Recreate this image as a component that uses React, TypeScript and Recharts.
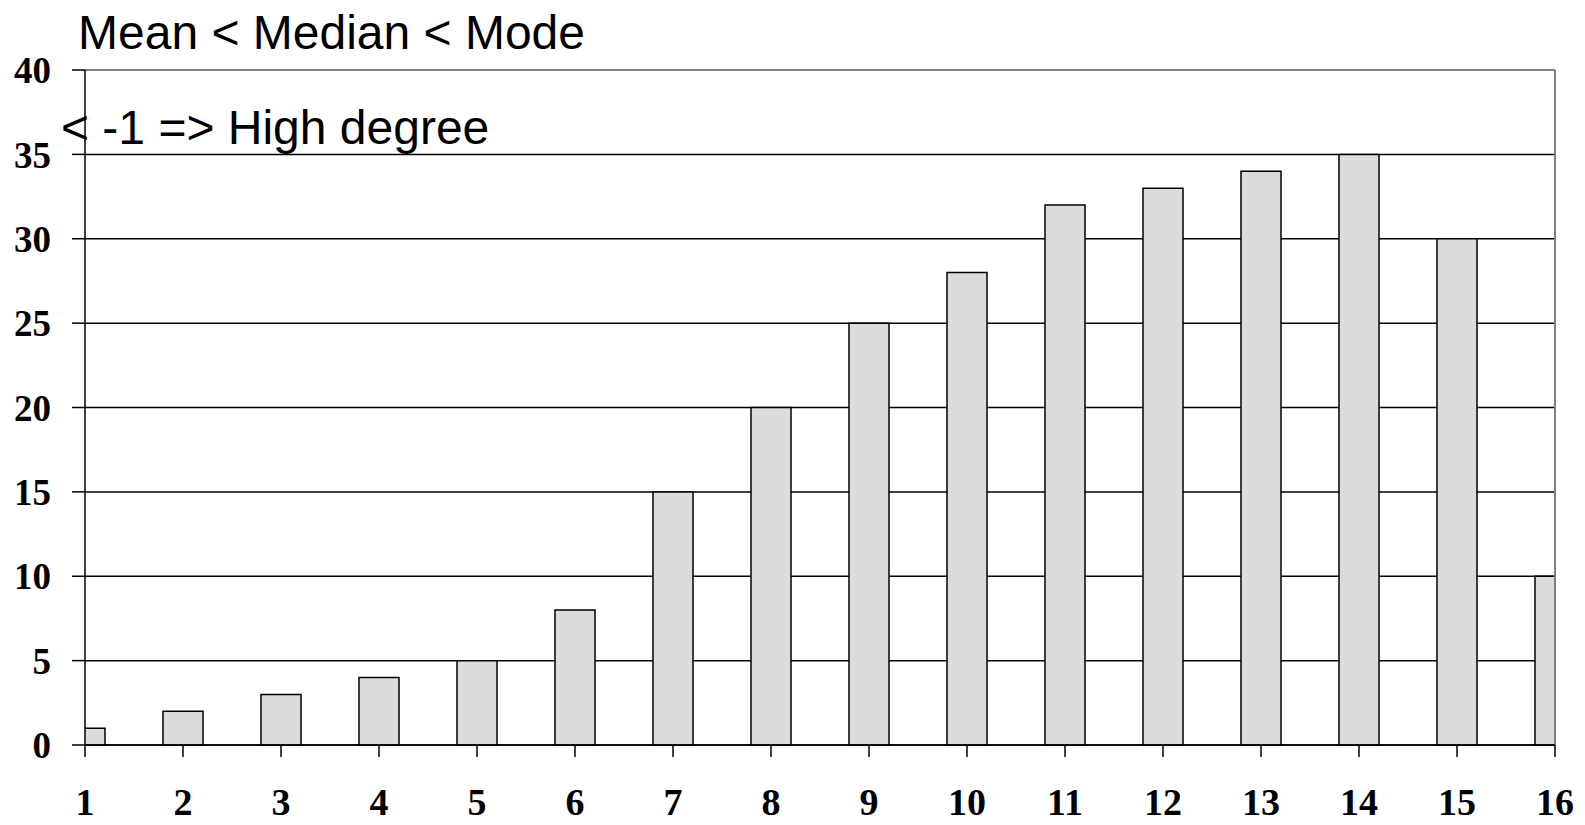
import { Bar, BarChart, CartesianGrid, ReferenceLine, XAxis, YAxis } from "recharts";

const classes = [1, 2, 3, 4, 5, 6, 7, 8, 9, 10, 11, 12, 13, 14, 15, 16];
const counts = [1, 2, 3, 4, 5, 8, 15, 20, 25, 28, 32, 33, 34, 35, 30, 10];
const yTicks = [0, 5, 10, 15, 20, 25, 30, 35, 40];
const title = "Mean < Median < Mode";
const note = "< -1 => High degree";

const data = classes.map((c, i) => ({ x: c, count: counts[i] }));

const serif = "'Liberation Serif', 'Times New Roman', serif";
const sans = "'Liberation Sans', Arial, sans-serif";

export default function App() {
  return (
    <div style={{ position: "absolute", left: 0, top: 0, width: 1585, height: 825, background: "#fff" }}>
      <BarChart width={1585} height={825} data={data} margin={{ top: 70, right: 30, bottom: 0, left: 0 }}>
        <CartesianGrid vertical={false} stroke="#000" strokeWidth={1.5} />
        <XAxis
          dataKey="x"
          type="number"
          domain={[1, 16]}
          ticks={classes}
          allowDataOverflow
          height={80}
          tickSize={12}
          tickMargin={31}
          stroke="#000"
          strokeWidth={1.5}
          tick={{ fill: "#000", fontSize: 38, fontWeight: "bold", fontFamily: serif }}
        />
        <YAxis
          domain={[0, 40]}
          ticks={yTicks}
          width={85}
          tickSize={13}
          tickMargin={21}
          stroke="#000"
          strokeWidth={1.5}
          tick={{ fill: "#000", fontSize: 37, fontWeight: "bold", fontFamily: serif }}
        />
        <Bar dataKey="count" fill="#dcdcdc" stroke="#000" strokeWidth={1.5} barSize={40} isAnimationActive={false} />
        <ReferenceLine y={40} stroke="#808080" strokeWidth={2} />
        <ReferenceLine x={16} stroke="#808080" strokeWidth={2} />
      </BarChart>
      <svg width={1585} height={825} style={{ position: "absolute", left: 0, top: 0, pointerEvents: "none" }}>
        <text x={78} y={49} fontSize={48} fontFamily={sans} fill="#000">
          {title}
        </text>
        <text x={61} y={144} fontSize={48} fontFamily={sans} fill="#000">
          {note}
        </text>
      </svg>
    </div>
  );
}
